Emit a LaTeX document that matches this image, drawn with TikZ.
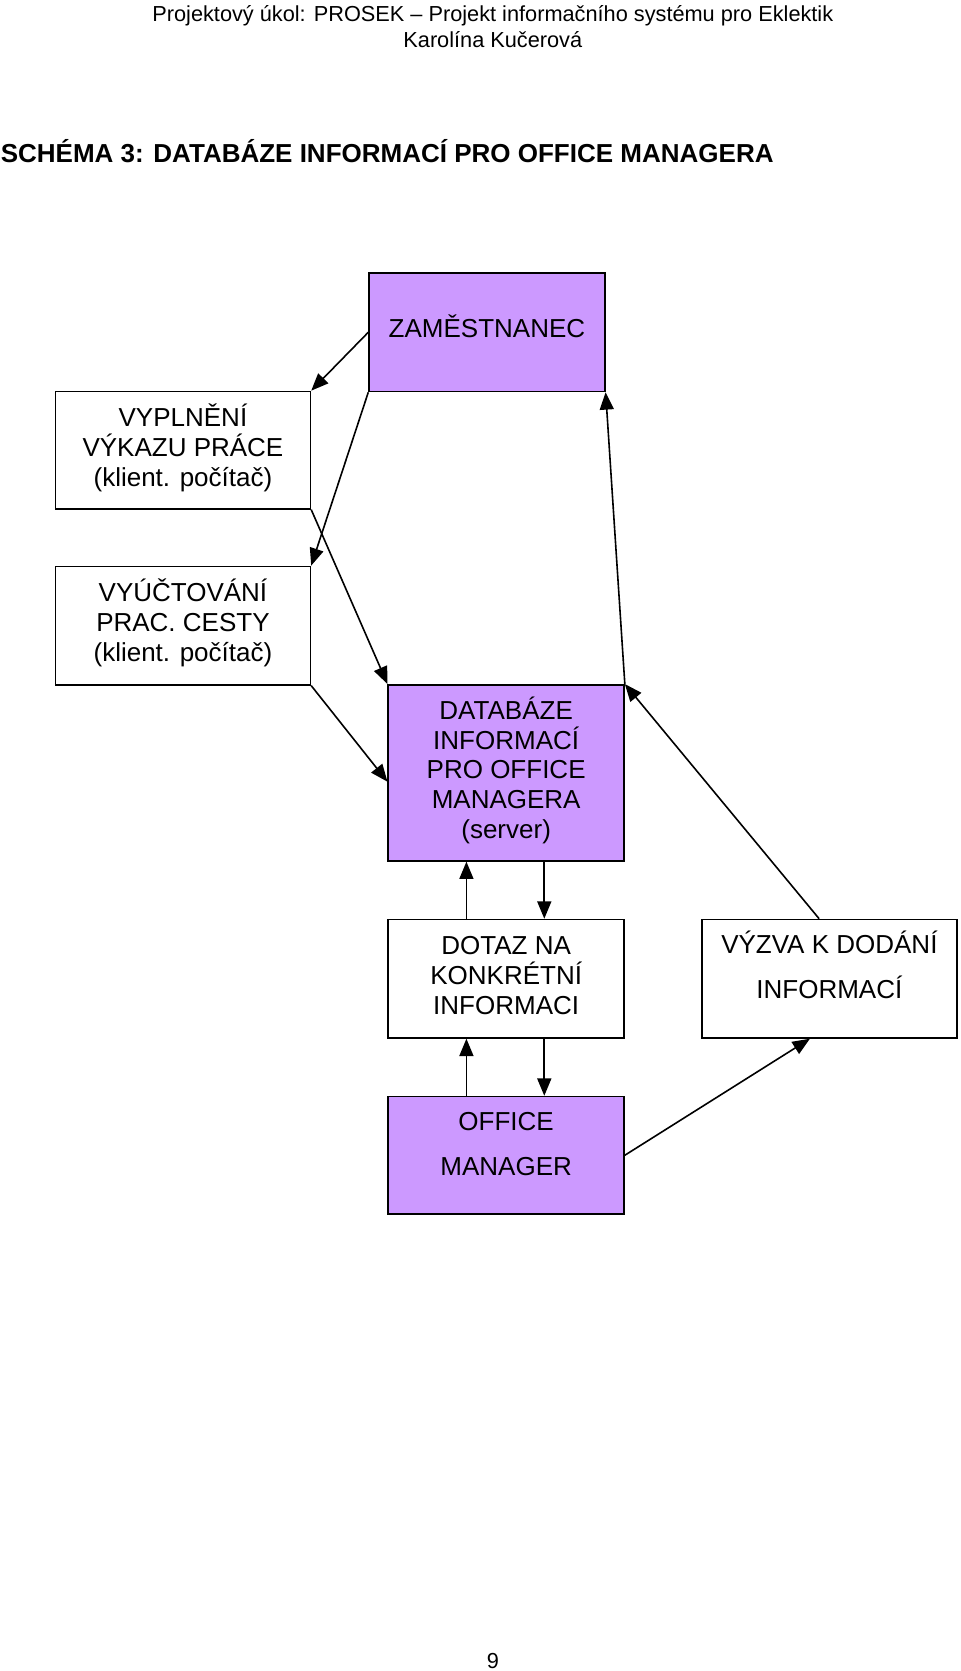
\documentclass[tikz,border=0pt]{standalone}
\usepackage{fontspec}
\setmainfont{Liberation Sans}
\usetikzlibrary{arrows.meta,calc}
\definecolor{lila}{RGB}{204,153,255}

\begin{document}
\begin{tikzpicture}[x=0.8pt,y=-0.8pt,
  box/.style={draw=black, line width=1.2pt, align=center, inner sep=0pt,
    font=\fontsize{19.5pt}{22.4pt}\selectfont,
    execute at begin node={\rule{0pt}{20.8pt}}},
  textdrop/.style={execute at end node={\rule[-#1]{0pt}{#1}}},
  narrow/.style={minimum width=176.8pt},
  wide/.style={minimum width=191.2pt},
  arr/.style={line width=1.2pt, -{Triangle[length=13pt,width=10.5pt]}},
  pagetext/.style={inner sep=0pt, font=\fontsize{16.3pt}{18.7pt}\selectfont}]

\useasboundingbox (0,0) rectangle (900,1566.5);

% header
\node[pagetext, anchor=base] (head1) at (462,20.5) {Projektový úkol: PROSEK -- Projekt informačního systému pro Eklektik};
\node[pagetext, anchor=base] (head2) at (462,44.5) {Karolína Kučerová};
\node[inner sep=0pt, anchor=base west, font=\fontsize{19.5pt}{22.4pt}\selectfont\bfseries] (title) at (0.5,152.7) {SCHÉMA 3: DATABÁZE INFORMACÍ PRO OFFICE MANAGERA};

% boxes
\node[box, textdrop=13.3pt, narrow, fill=lila, minimum height=88.8pt] (staff) at (456.5,311.5) {ZAMĚSTNANEC};
\node[box, textdrop=7.7pt, wide, minimum height=88pt] (report) at (171.5,422) {VYPLNĚNÍ\\VÝKAZU PRÁCE\\(klient. počítač)};
\node[box, textdrop=7.7pt, wide, minimum height=88.8pt] (trip) at (171.5,586.5) {VYÚČTOVÁNÍ\\PRAC. CESTY\\(klient. počítač)};
\node[box, textdrop=7.7pt, narrow, fill=lila, minimum height=132pt] (db) at (474.5,724.5) {DATABÁZE\\INFORMACÍ\\PRO OFFICE\\MANAGERA\\(server)};
\node[box, textdrop=5.3pt, narrow, minimum height=88.8pt] (query) at (474.5,917.5) {DOTAZ NA\\KONKRÉTNÍ\\INFORMACI};
\node[box, textdrop=20.5pt, wide, minimum height=88.8pt] (call) at (777.5,917.5) {VÝZVA K DODÁNÍ\\[11.2pt]INFORMACÍ};
\node[box, textdrop=16.5pt, narrow, fill=lila, minimum height=88pt] (manager) at (474.5,1083) {OFFICE\\[11.2pt]MANAGER};

% arrows
\draw[arr] (staff.west) -- (report.north east);
\draw[arr] (staff.south west) -- (trip.north east);
\draw[arr] (report.south east) -- (db.north west);
\draw[arr] (trip.south east) -- ($(db.north west)!0.55!(db.south west)$);
\draw[arr] (db.north east) -- (staff.south east);
\draw[arr] ($(call.north west)!0.46!(call.north east)$) -- (db.north east);
\draw[arr] ([xshift=59.2pt]query.north west) -- ([xshift=59.2pt]db.south west);
\draw[arr] ([xshift=117.6pt]db.south west) -- ([xshift=117.6pt]query.north west);
\draw[arr] ([xshift=59.2pt]manager.north west) -- ([xshift=59.2pt]query.south west);
\draw[arr] ([xshift=117.6pt]query.south west) -- ([xshift=117.6pt]manager.north west);
\draw[arr] (manager.east) -- ([xshift=81.6pt]call.south west);

\node[pagetext] (pagenum) at (462,1557) {9};

\end{tikzpicture}
\end{document}
